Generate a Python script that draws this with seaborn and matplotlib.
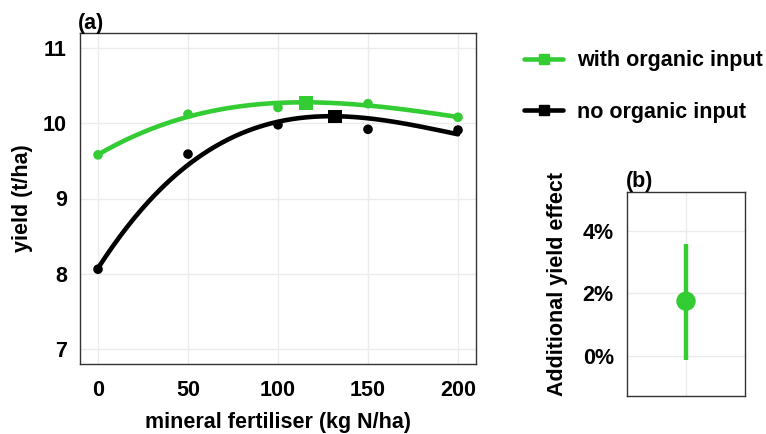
import numpy as np
import pandas as pd
import matplotlib
matplotlib.use("Agg")
import matplotlib.pyplot as plt
from matplotlib.lines import Line2D
import seaborn as sns

# Observed yields (t/ha) by mineral N rate (kg N/ha)
n_rate = [0, 50, 100, 150, 200]
yield_organic = [9.58, 10.12, 10.21, 10.26, 10.08]
yield_no_organic = [8.06, 9.59, 9.98, 9.92, 9.91]

# Model-fitted yields at the same N rates
fit_organic = [9.58, 10.10, 10.25, 10.25, 10.08]
fit_no_organic = [8.07, 9.46, 10.00, 10.08, 9.85]

# Economic optimum (N rate, yield) for each treatment
opt_n = [115.6, 131.6]
opt_yield = [10.27, 10.09]

# Additional yield effect of organic input (%), mean and interval
effect_mean = [1.75]
effect_low = [-0.12]
effect_high = [3.57]

GROUPS = ["with organic input", "no organic input"]
GREEN = "#33CC33"
BLACK = "#000000"
FRAME = "#333333"
FS = 15.5

sns.set_theme(style="white")
plt.rcParams["font.family"] = ["Liberation Sans", "DejaVu Sans"]
plt.rcParams["font.weight"] = "bold"
plt.rcParams["text.color"] = "black"
plt.rcParams["axes.labelcolor"] = "black"
plt.rcParams["axes.titlecolor"] = "black"

fig = plt.figure(figsize=(7.66, 4.34), dpi=100)
W, H = 766, 434
ax_a = fig.add_axes([80 / W, 1 - 364 / H, (476 - 80) / W, (364 - 33) / H])
ax_b = fig.add_axes([627 / W, 1 - 396 / H, (745 - 627) / W, (396 - 192) / H])

obs = pd.DataFrame({
    "N": n_rate * 2,
    "yield": yield_organic + yield_no_organic,
    "group": [GROUPS[0]] * 5 + [GROUPS[1]] * 5,
})

# smooth response curves through the fitted values (cubic in N)
curves = []
for grp, vals in zip(GROUPS, [fit_organic, fit_no_organic]):
    coef = np.polyfit(n_rate, vals, 3)
    xs = np.linspace(0, 200, 201)
    curves.append(pd.DataFrame({"N": xs, "yield": np.polyval(coef, xs), "group": grp}))
curves = pd.concat(curves)
optima = pd.DataFrame({"N": opt_n, "yield": opt_yield, "group": GROUPS})

palette = {GROUPS[0]: GREEN, GROUPS[1]: BLACK}

sns.lineplot(data=curves, x="N", y="yield", hue="group", palette=palette,
             linewidth=3.3, legend=False, ax=ax_a, zorder=3)
sns.scatterplot(data=obs, x="N", y="yield", hue="group", palette=palette,
                s=48, edgecolor="none", legend=False, ax=ax_a, zorder=4)
sns.scatterplot(data=optima, x="N", y="yield", hue="group", palette=palette,
                marker="s", s=100, edgecolor="none", legend=False, ax=ax_a, zorder=5)

ax_a.set_xlim(-10, 210)
ax_a.set_ylim(6.8, 11.2)
ax_a.set_xticks([0, 50, 100, 150, 200])
ax_a.set_yticks([7, 8, 9, 10, 11])
ax_a.set_xlabel("mineral fertiliser (kg N/ha)", fontsize=FS, fontweight="bold", labelpad=8)
ax_a.set_ylabel("yield (t/ha)", fontsize=FS, fontweight="bold", labelpad=7)
ax_a.set_title("(a)", loc="left", fontsize=FS, fontweight="bold", pad=3, x=-0.005)

# panel (b): effect estimate with interval
eff = pd.DataFrame({"pos": [0], "effect": effect_mean})
ax_b.vlines(eff["pos"], effect_low, effect_high, color=GREEN, linewidth=3.2, zorder=3)
sns.scatterplot(data=eff, x="pos", y="effect", color=GREEN, s=195, edgecolor="none",
                ax=ax_b, zorder=4)
ax_b.set_xlim(-1, 1)
ax_b.set_ylim(-1.28, 5.24)
ax_b.set_xticks([0])
ax_b.set_xticklabels([""])
ax_b.set_yticks([0, 2, 4])
ax_b.set_yticklabels(["0%", "2%", "4%"])
ax_b.set_xlabel("")
ax_b.set_ylabel("Additional yield effect", fontsize=FS, fontweight="bold")
ax_b.yaxis.set_label_coords(-0.50, 0.55)
ax_b.set_title("(b)", loc="left", fontsize=FS, fontweight="bold", pad=3, x=-0.01)

for ax in (ax_a, ax_b):
    ax.grid(True, color="#EBEBEB", linewidth=1.0)
    ax.set_axisbelow(True)
    for sp in ax.spines.values():
        sp.set_color(FRAME)
        sp.set_linewidth(1.0)
    ax.tick_params(axis="both", direction="out", length=5.5, width=1.3, color=FRAME,
                   labelsize=FS, labelcolor="black", pad=4)
    for lab in ax.get_xticklabels() + ax.get_yticklabels():
        lab.set_fontweight("bold")
ax_a.tick_params(axis="x", pad=6)
ax_b.tick_params(axis="x", length=0)

handles = [Line2D([0], [0], color=GREEN, lw=3.3, marker="s", markersize=7),
           Line2D([0], [0], color=BLACK, lw=3.3, marker="s", markersize=7)]
leg = fig.legend(handles, GROUPS,
                 loc="upper left", bbox_to_anchor=(505 / W, 1 - 31 / H), frameon=False,
                 handlelength=1.8, labelspacing=1.4, handletextpad=0.65,
                 prop={"weight": "bold", "size": FS})
for t in leg.get_texts():
    t.set_color("black")

fig.savefig("out.png", dpi=100)
